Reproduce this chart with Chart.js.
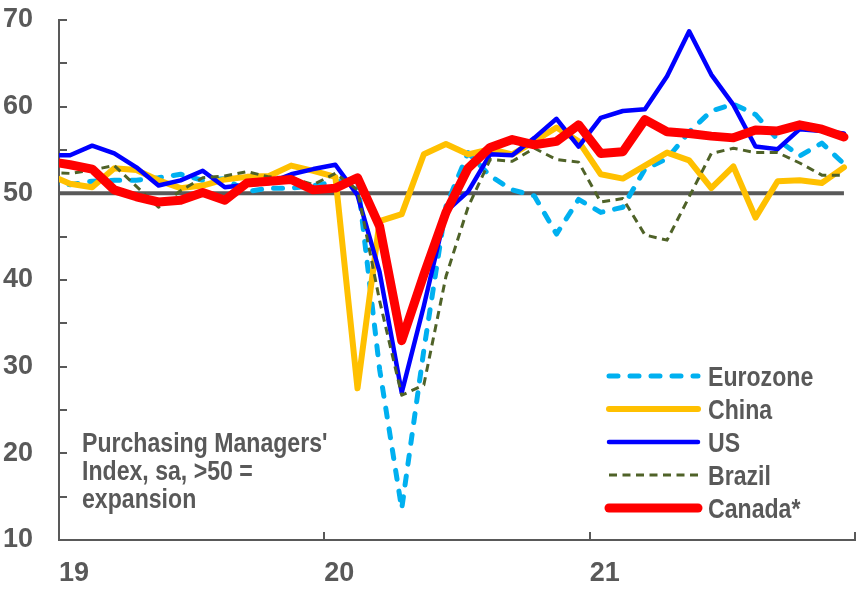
<!DOCTYPE html>
<html>
<head>
<meta charset="utf-8">
<script src="https://cdn.jsdelivr.net/npm/chart.js@4.4.1/dist/chart.umd.min.js"></script>
<style>
  html, body { margin: 0; padding: 0; background: #fff; }
</style>
</head>
<body>
<canvas id="pmi" width="865" height="591"></canvas>
<script>
// months, Dec 2018 is only there so the lines run into the left axis
const months = [
  '2018-12',
  '2019-01', '2019-02', '2019-03', '2019-04', '2019-05', '2019-06',
  '2019-07', '2019-08', '2019-09', '2019-10', '2019-11', '2019-12',
  '2020-01', '2020-02', '2020-03', '2020-04', '2020-05', '2020-06',
  '2020-07', '2020-08', '2020-09', '2020-10', '2020-11', '2020-12',
  '2021-01', '2021-02', '2021-03', '2021-04', '2021-05', '2021-06',
  '2021-07', '2021-08', '2021-09', '2021-10', '2021-11', '2021-12'
];
const yearTicks = ['19', '20', '21', ''];
const threshold = 50;

const eurozone = [51.1,
  51.0, 51.4, 51.5, 51.5, 51.8, 52.2, 51.5, 51.7, 50.2, 50.6, 50.6, 50.9,
  51.3, 51.6, 29.7, 13.6, 31.9, 48.5, 54.7, 52.0, 50.4, 49.7, 45.3, 49.3,
  47.8, 48.4, 52.8, 54.0, 57.1, 59.5, 60.3, 59.1, 56.2, 54.3, 55.8, 53.4];
const china = [52.2,
  51.1, 50.7, 52.9, 52.7, 51.5, 50.6, 50.9, 51.6, 51.9, 52.0, 53.2, 52.6,
  51.9, 27.5, 46.8, 47.6, 54.5, 55.7, 54.5, 55.1, 54.5, 56.0, 57.6, 56.0,
  52.2, 51.7, 53.2, 54.7, 53.8, 50.6, 53.1, 47.2, 51.4, 51.5, 51.2, 53.0];
const us = [54.4,
  54.4, 55.5, 54.6, 53.0, 50.9, 51.5, 52.6, 50.7, 51.0, 51.2, 52.2, 52.8,
  53.3, 49.8, 40.9, 27.0, 37.0, 47.9, 50.2, 54.5, 54.4, 56.4, 58.6, 55.4,
  58.7, 59.5, 59.7, 63.5, 68.7, 63.7, 60.2, 55.4, 55.1, 57.4, 57.2, 56.9];
const brazil = [52.4,
  52.3, 52.7, 53.2, 50.8, 48.4, 50.3, 51.8, 52.0, 52.5, 51.9, 51.8, 51.0,
  52.3, 50.4, 37.6, 26.7, 27.9, 40.4, 48.4, 53.9, 53.7, 55.2, 53.9, 53.6,
  49.0, 49.4, 45.2, 44.6, 49.6, 54.6, 55.2, 54.7, 54.7, 53.5, 52.1, 52.1];
const canada = [53.7,
  53.3, 52.8, 50.4, 49.6, 49.0, 49.2, 50.1, 49.2, 51.2, 51.4, 51.6, 50.4,
  50.6, 51.8, 46.2, 33.0, 40.6, 47.8, 52.9, 55.3, 56.2, 55.6, 56.0, 57.9,
  54.6, 54.8, 58.5, 57.1, 56.9, 56.6, 56.4, 57.3, 57.2, 57.9, 57.4, 56.5];

const grey = '#595959';
const noteLines = ["Purchasing Managers'", 'Index, sa, >50 =', 'expansion'];
// the original uses a condensed bold face, squeeze Liberation Sans to match
const labelFont = 'bold 27.5px "Liberation Sans", Arial, sans-serif';
const squeeze = 0.84;

// points sit mid-month on a 0..36 month axis
const toPoints = arr => arr.map((v, i) => ({ x: i - 0.5, y: v }));

Chart.defaults.font.family = '"Liberation Sans", Arial, sans-serif';
Chart.defaults.color = grey;

const inwardTicks = {
  id: 'inwardTicks',
  beforeDatasetsDraw(chart) {
    const { ctx, chartArea: a, scales: { x, y } } = chart;
    ctx.save();
    ctx.strokeStyle = grey;
    ctx.lineWidth = 2;
    ctx.beginPath();
    y.ticks.forEach(t => {
      const py = Math.round(y.getPixelForValue(t.value));
      ctx.moveTo(a.left, py);
      ctx.lineTo(a.left + 8, py);
    });
    x.ticks.forEach(t => {
      const px = Math.round(x.getPixelForValue(t.value));
      ctx.moveTo(px, a.bottom);
      ctx.lineTo(px, a.bottom - 8);
    });
    ctx.stroke();
    ctx.restore();
  }
};

function squeezedText(ctx, text, x, y) {
  ctx.save();
  ctx.translate(x, y);
  ctx.scale(squeeze, 1);
  ctx.fillText(text, 0, 0);
  ctx.restore();
}

const sideLegend = {
  id: 'sideLegend',
  afterDraw(chart) {
    const { ctx } = chart;
    ctx.save();
    ctx.font = labelFont;
    ctx.fillStyle = grey;
    ctx.textBaseline = 'alphabetic';
    chart.data.datasets.filter(d => d.showInLegend).forEach((d, i) => {
      const cy = 376 + i * 33;
      ctx.save();
      ctx.strokeStyle = d.borderColor;
      ctx.lineWidth = d.borderWidth;
      ctx.lineCap = d.borderCapStyle;
      ctx.setLineDash(d.borderDash || []);
      ctx.beginPath();
      ctx.moveTo(609, cy);
      ctx.lineTo(698, cy);
      ctx.stroke();
      ctx.restore();
      squeezedText(ctx, d.label, 708, cy + 10);
    });
    noteLines.forEach((t, i) => squeezedText(ctx, t, 82, 452 + i * 28));
    ctx.restore();
  }
};

new Chart(document.getElementById('pmi'), {
  type: 'line',
  data: {
    datasets: [
      {
        label: 'Eurozone', data: toPoints(eurozone), borderColor: '#00B0F0',
        borderWidth: 5, borderDash: [9, 12], borderCapStyle: 'round', order: 4, showInLegend: true
      },
      {
        label: 'China', data: toPoints(china), borderColor: '#FFC000',
        borderWidth: 6, borderCapStyle: 'round', order: 3, showInLegend: true
      },
      {
        label: 'US', data: toPoints(us), borderColor: '#0000FF',
        borderWidth: 4.5, borderCapStyle: 'round', order: 2, showInLegend: true
      },
      {
        label: 'Brazil', data: toPoints(brazil), borderColor: '#4F6228',
        borderWidth: 3, borderDash: [8, 5.5], borderCapStyle: 'butt', order: 1, showInLegend: true
      },
      {
        label: 'Canada*', data: toPoints(canada), borderColor: '#FF0000',
        borderWidth: 9, borderCapStyle: 'round', order: 0, showInLegend: true
      },
      {
        label: '50', data: toPoints(months.map(() => threshold)), borderColor: grey,
        borderWidth: 4, borderCapStyle: 'butt', order: 5, showInLegend: false
      }
    ]
  },
  options: {
    responsive: false,
    animation: false,
    devicePixelRatio: 1,
    layout: { padding: { top: 20, right: 10, left: 0, bottom: 0 } },
    elements: {
      point: { radius: 0, hoverRadius: 0 },
      line: { tension: 0, borderJoinStyle: 'round', fill: false }
    },
    plugins: {
      legend: { display: false },
      tooltip: { enabled: false }
    },
    scales: {
      x: {
        type: 'linear',
        min: 0,
        max: 36,
        afterFit: s => {
          s.height = 51;
          s.paddingLeft = 0;
          s.paddingRight = 0;
        },
        afterBuildTicks: s => { s.ticks = yearTicks.map((_, i) => ({ value: i * 12 })); },
        ticks: {
          callback: v => yearTicks[v / 12],
          font: { size: 27, weight: 'bold' },
          color: grey,
          align: 'start',
          padding: 17,
          maxRotation: 0,
          autoSkip: false
        },
        grid: { display: false, drawTicks: false },
        border: { color: grey, width: 2 }
      },
      y: {
        min: 10,
        max: 70,
        afterFit: s => {
          s.width = 59;
          s.paddingTop = 0;
          s.paddingBottom = 0;
        },
        ticks: {
          stepSize: 5,
          callback: v => (v % 10 === 0 ? String(v) : ''),
          font: { size: 27, weight: 'bold' },
          color: grey,
          padding: 26
        },
        grid: { display: false, drawTicks: false },
        border: { color: grey, width: 2 }
      }
    }
  },
  plugins: [inwardTicks, sideLegend]
});
</script>
</body>
</html>
